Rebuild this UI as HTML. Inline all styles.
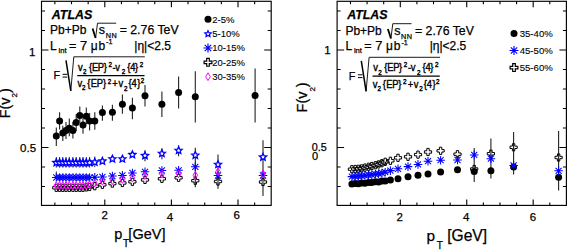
<!DOCTYPE html><html><head><meta charset="utf-8"><style>html,body{margin:0;padding:0;background:#fff;width:568px;height:250px;overflow:hidden}svg{display:block}text{font-family:"Liberation Sans",sans-serif;stroke:#000;stroke-width:0.25px}</style></head><body>
<svg width="568" height="250" viewBox="0 0 568 250">
<rect width="568" height="250" fill="#fff"/>
<path d="M54.85 205.40v-3M54.85 1.30v3M71.50 205.40v-3M71.50 1.30v3M88.15 205.40v-3M88.15 1.30v3M104.80 205.40v-6M104.80 1.30v6M121.45 205.40v-3M121.45 1.30v3M138.10 205.40v-3M138.10 1.30v3M154.75 205.40v-3M154.75 1.30v3M171.40 205.40v-6M171.40 1.30v6M188.05 205.40v-3M188.05 1.30v3M204.70 205.40v-3M204.70 1.30v3M221.35 205.40v-3M221.35 1.30v3M238.00 205.40v-6M238.00 1.30v6M254.65 205.40v-3M254.65 1.30v3M41.50 186.50h3.5M271.20 186.50h-3.5M41.50 167.00h3.5M271.20 167.00h-3.5M41.50 147.50h7M271.20 147.50h-7M41.50 128.00h3.5M271.20 128.00h-3.5M41.50 108.50h3.5M271.20 108.50h-3.5M41.50 89.00h3.5M271.20 89.00h-3.5M41.50 69.50h3.5M271.20 69.50h-3.5M41.50 50.00h7M271.20 50.00h-7M41.50 30.50h3.5M271.20 30.50h-3.5M41.50 11.00h3.5M271.20 11.00h-3.5" stroke="#000" stroke-width="1.1" fill="none"/>
<rect x="41.50" y="1.30" width="229.70" height="204.10" fill="none" stroke="#000" stroke-width="1.15"/>
<path d="M350.47 205.40v-3M350.47 1.30v3M367.08 205.40v-3M367.08 1.30v3M383.69 205.40v-3M383.69 1.30v3M400.30 205.40v-6M400.30 1.30v6M416.91 205.40v-3M416.91 1.30v3M433.52 205.40v-3M433.52 1.30v3M450.13 205.40v-3M450.13 1.30v3M466.74 205.40v-6M466.74 1.30v6M483.35 205.40v-3M483.35 1.30v3M499.96 205.40v-3M499.96 1.30v3M516.57 205.40v-3M516.57 1.30v3M533.18 205.40v-6M533.18 1.30v6M549.79 205.40v-3M549.79 1.30v3M337.10 186.50h3.5M566.40 186.50h-3.5M337.10 167.00h3.5M566.40 167.00h-3.5M337.10 147.50h7M566.40 147.50h-7M337.10 128.00h3.5M566.40 128.00h-3.5M337.10 108.50h3.5M566.40 108.50h-3.5M337.10 89.00h3.5M566.40 89.00h-3.5M337.10 69.50h3.5M566.40 69.50h-3.5M337.10 50.00h7M566.40 50.00h-7M337.10 30.50h3.5M566.40 30.50h-3.5M337.10 11.00h3.5M566.40 11.00h-3.5" stroke="#000" stroke-width="1.1" fill="none"/>
<rect x="337.10" y="1.30" width="229.30" height="204.10" fill="none" stroke="#000" stroke-width="1.15"/>
<text x="101.62" y="219.40" font-size="11.5" >2</text>
<text x="166.84" y="220.60" font-size="11.5" >4</text>
<text x="233.52" y="219.10" font-size="11.5" >6</text>
<text x="396.52" y="221.10" font-size="11.5" >2</text>
<text x="463.04" y="221.40" font-size="11.5" >4</text>
<text x="529.72" y="221.20" font-size="11.5" >6</text>
<text x="28.97" y="56.00" font-size="11.5">1</text>
<text x="20.10" y="151.60" font-size="11.5">0.5</text>
<text x="324.17" y="54.40" font-size="11.5">1</text>
<text x="311.74" y="150.80" font-size="10.8">0.5</text>
<text x="311.97" y="160.10" font-size="11" >0</text>
<text x="114.17" y="239.40" font-size="14.5" >p</text>
<text x="123.08" y="246.80" font-size="10" >T</text>
<text x="128.37" y="239.40" font-size="14.5" >[GeV]</text>
<text x="426.61" y="241.00" font-size="15.4" >p</text>
<text x="436.68" y="248.90" font-size="10" >T</text>
<text x="447.19" y="241.30" font-size="15.6" >[GeV]</text>
<text transform="translate(9.9,118.3) rotate(-90)" font-size="14.4">F(v<tspan font-size="8" dy="7.4">2</tspan><tspan dy="-7.4">)</tspan></text>
<text transform="translate(307.4,112.4) rotate(-90)" font-size="14.4">F(v<tspan font-size="8" dy="7.6">2</tspan><tspan dy="-7.6">)</tspan></text>
<text x="51.85" y="18.60" font-size="12.4" font-weight="bold" font-style="italic" >ATLAS</text>
<text x="50.12" y="34.00" font-size="12" >Pb+Pb</text>
<path d="M92.6 28.4L95.6 37.9" stroke="#000" stroke-width="1.8" fill="none"/>
<path d="M95.6 37.9L97.5 23.2H116.2" stroke="#000" stroke-width="0.9" fill="none"/>
<text x="98.85" y="34.00" font-size="12.5" >s</text>
<text x="105.81" y="38.20" font-size="7.2" letter-spacing="0.5">NN</text>
<text x="119.70" y="34.00" font-size="12.3" >= 2.76 TeV</text>
<text x="50.12" y="49.60" font-size="12" >L</text>
<text x="58.59" y="52.90" font-size="7.6" >int</text>
<text x="68.99" y="49.60" font-size="12.5" >=</text>
<text x="80.04" y="49.60" font-size="12.8" >7</text>
<text x="90.79" y="49.60" font-size="12" >μ</text>
<text x="98.43" y="49.60" font-size="12" >b</text>
<text x="106.08" y="44.00" font-size="7.2" >-1</text>
<text x="134.33" y="49.80" font-size="12" >|η|&lt;2.5</text>
<text x="53.51" y="79.00" font-size="10.8" >F</text>
<path d="M62.6 74.3h4.6M62.6 77.1h4.6" stroke="#000" stroke-width="1"/>
<path d="M66 60.4L70.8 90.8" stroke="#000" stroke-width="1.5" fill="none"/>
<path d="M70.8 90.8L73.8 56.8H144.8" stroke="#000" stroke-width="0.9" fill="none"/>
<line x1="77.2" y1="75.6" x2="144.5" y2="75.6" stroke="#000" stroke-width="1.3"/>
<text transform="translate(77.97,70.80) scale(1,1.15)" font-size="9.4" style="stroke-width:0.35px">v</text>
<text transform="translate(82.88,74.00) scale(1,1.15)" font-size="6.3" style="stroke-width:0.35px">2</text>
<text transform="translate(88.94,70.80) scale(1,1.15)" font-size="9.4" style="stroke-width:0.35px">{</text>
<text transform="translate(92.03,70.80) scale(1,1.15)" font-size="9.4" style="stroke-width:0.35px">E</text>
<text transform="translate(97.83,70.80) scale(1,1.15)" font-size="9.4" style="stroke-width:0.35px">P</text>
<text transform="translate(103.64,70.80) scale(1,1.15)" font-size="9.4" style="stroke-width:0.35px">}</text>
<text transform="translate(108.48,66.60) scale(1,1.15)" font-size="6.3" style="stroke-width:0.35px">2</text>
<text transform="translate(112.58,70.80) scale(1,1.15)" font-size="9.4" style="stroke-width:0.35px">-</text>
<text transform="translate(115.37,70.80) scale(1,1.15)" font-size="9.4" style="stroke-width:0.35px">v</text>
<text transform="translate(121.68,74.00) scale(1,1.15)" font-size="6.3" style="stroke-width:0.35px">2</text>
<text transform="translate(127.24,70.80) scale(1,1.15)" font-size="9.4" style="stroke-width:0.35px">{</text>
<text transform="translate(130.18,70.80) scale(1,1.15)" font-size="9.4" style="stroke-width:0.35px">4</text>
<text transform="translate(135.04,70.80) scale(1,1.15)" font-size="9.4" style="stroke-width:0.35px">}</text>
<text transform="translate(139.78,66.60) scale(1,1.15)" font-size="6.3" style="stroke-width:0.35px">2</text>
<text transform="translate(77.57,87.10) scale(1,1.15)" font-size="9.4" style="stroke-width:0.35px">v</text>
<text transform="translate(82.08,90.00) scale(1,1.15)" font-size="6.3" style="stroke-width:0.35px">2</text>
<text transform="translate(87.34,87.10) scale(1,1.15)" font-size="9.4" style="stroke-width:0.35px">{</text>
<text transform="translate(90.83,87.10) scale(1,1.15)" font-size="9.4" style="stroke-width:0.35px">E</text>
<text transform="translate(96.83,87.10) scale(1,1.15)" font-size="9.4" style="stroke-width:0.35px">P</text>
<text transform="translate(103.04,87.10) scale(1,1.15)" font-size="9.4" style="stroke-width:0.35px">}</text>
<text transform="translate(107.68,83.60) scale(1,1.15)" font-size="6.3" style="stroke-width:0.35px">2</text>
<text transform="translate(112.34,87.10) scale(1,1.15)" font-size="9.4" style="stroke-width:0.35px">+</text>
<text transform="translate(118.47,87.10) scale(1,1.15)" font-size="9.4" style="stroke-width:0.35px">v</text>
<text transform="translate(123.88,90.60) scale(1,1.15)" font-size="6.3" style="stroke-width:0.35px">2</text>
<text transform="translate(128.44,87.10) scale(1,1.15)" font-size="9.4" style="stroke-width:0.35px">{</text>
<text transform="translate(131.48,87.10) scale(1,1.15)" font-size="9.4" style="stroke-width:0.35px">4</text>
<text transform="translate(137.24,87.10) scale(1,1.15)" font-size="9.4" style="stroke-width:0.35px">}</text>
<text transform="translate(140.68,83.20) scale(1,1.15)" font-size="6.3" style="stroke-width:0.35px">2</text>
<text x="347.15" y="19.10" font-size="12.4" font-weight="bold" font-style="italic" >ATLAS</text>
<text x="345.42" y="34.50" font-size="12" >Pb+Pb</text>
<path d="M387.9 28.9L390.9 38.4" stroke="#000" stroke-width="1.8" fill="none"/>
<path d="M390.9 38.4L392.8 23.7H411.5" stroke="#000" stroke-width="0.9" fill="none"/>
<text x="394.15" y="34.50" font-size="12.5" >s</text>
<text x="401.11" y="38.70" font-size="7.2" letter-spacing="0.5">NN</text>
<text x="415.00" y="34.50" font-size="12.3" >= 2.76 TeV</text>
<text x="345.42" y="50.10" font-size="12" >L</text>
<text x="353.89" y="53.40" font-size="7.6" >int</text>
<text x="364.29" y="50.10" font-size="12.5" >=</text>
<text x="375.34" y="50.10" font-size="12.8" >7</text>
<text x="386.09" y="50.10" font-size="12" >μ</text>
<text x="393.73" y="50.10" font-size="12" >b</text>
<text x="401.38" y="44.50" font-size="7.2" >-1</text>
<text x="429.63" y="50.30" font-size="12" >|η|&lt;2.5</text>
<text x="348.81" y="79.50" font-size="10.8" >F</text>
<path d="M357.90000000000003 74.8h4.6M357.90000000000003 77.6h4.6" stroke="#000" stroke-width="1"/>
<path d="M361.3 60.9L366.1 91.3" stroke="#000" stroke-width="1.5" fill="none"/>
<path d="M366.1 91.3L369.1 57.3H440.1" stroke="#000" stroke-width="0.9" fill="none"/>
<line x1="372.5" y1="76.1" x2="439.8" y2="76.1" stroke="#000" stroke-width="1.3"/>
<text transform="translate(373.27,71.30) scale(1,1.15)" font-size="9.4" style="stroke-width:0.35px">v</text>
<text transform="translate(378.18,74.50) scale(1,1.15)" font-size="6.3" style="stroke-width:0.35px">2</text>
<text transform="translate(384.24,71.30) scale(1,1.15)" font-size="9.4" style="stroke-width:0.35px">{</text>
<text transform="translate(387.33,71.30) scale(1,1.15)" font-size="9.4" style="stroke-width:0.35px">E</text>
<text transform="translate(393.13,71.30) scale(1,1.15)" font-size="9.4" style="stroke-width:0.35px">P</text>
<text transform="translate(398.94,71.30) scale(1,1.15)" font-size="9.4" style="stroke-width:0.35px">}</text>
<text transform="translate(403.78,67.10) scale(1,1.15)" font-size="6.3" style="stroke-width:0.35px">2</text>
<text transform="translate(407.88,71.30) scale(1,1.15)" font-size="9.4" style="stroke-width:0.35px">-</text>
<text transform="translate(410.67,71.30) scale(1,1.15)" font-size="9.4" style="stroke-width:0.35px">v</text>
<text transform="translate(416.98,74.50) scale(1,1.15)" font-size="6.3" style="stroke-width:0.35px">2</text>
<text transform="translate(422.54,71.30) scale(1,1.15)" font-size="9.4" style="stroke-width:0.35px">{</text>
<text transform="translate(425.48,71.30) scale(1,1.15)" font-size="9.4" style="stroke-width:0.35px">4</text>
<text transform="translate(430.34,71.30) scale(1,1.15)" font-size="9.4" style="stroke-width:0.35px">}</text>
<text transform="translate(435.08,67.10) scale(1,1.15)" font-size="6.3" style="stroke-width:0.35px">2</text>
<text transform="translate(372.87,87.60) scale(1,1.15)" font-size="9.4" style="stroke-width:0.35px">v</text>
<text transform="translate(377.38,90.50) scale(1,1.15)" font-size="6.3" style="stroke-width:0.35px">2</text>
<text transform="translate(382.64,87.60) scale(1,1.15)" font-size="9.4" style="stroke-width:0.35px">{</text>
<text transform="translate(386.13,87.60) scale(1,1.15)" font-size="9.4" style="stroke-width:0.35px">E</text>
<text transform="translate(392.13,87.60) scale(1,1.15)" font-size="9.4" style="stroke-width:0.35px">P</text>
<text transform="translate(398.34,87.60) scale(1,1.15)" font-size="9.4" style="stroke-width:0.35px">}</text>
<text transform="translate(402.98,84.10) scale(1,1.15)" font-size="6.3" style="stroke-width:0.35px">2</text>
<text transform="translate(407.64,87.60) scale(1,1.15)" font-size="9.4" style="stroke-width:0.35px">+</text>
<text transform="translate(413.77,87.60) scale(1,1.15)" font-size="9.4" style="stroke-width:0.35px">v</text>
<text transform="translate(419.18,91.10) scale(1,1.15)" font-size="6.3" style="stroke-width:0.35px">2</text>
<text transform="translate(423.74,87.60) scale(1,1.15)" font-size="9.4" style="stroke-width:0.35px">{</text>
<text transform="translate(426.78,87.60) scale(1,1.15)" font-size="9.4" style="stroke-width:0.35px">4</text>
<text transform="translate(432.54,87.60) scale(1,1.15)" font-size="9.4" style="stroke-width:0.35px">}</text>
<text transform="translate(435.98,83.70) scale(1,1.15)" font-size="6.3" style="stroke-width:0.35px">2</text>
<circle cx="208.0" cy="19.3" r="3.5" fill="#000"/>
<text x="212.2" y="22.7" font-size="9.5" text-anchor="start" style="stroke-width:0.1px">2-5%</text>
<polygon points="208.00,30.65 208.91,32.70 211.14,32.93 209.48,34.43 209.94,36.62 208.00,35.50 206.06,36.62 206.52,34.43 204.86,32.93 207.09,32.70" fill="#fff" stroke="#0000ff" stroke-width="1.2" stroke-linejoin="miter"/>
<text x="212.2" y="37.0" font-size="9.5" text-anchor="start" style="stroke-width:0.1px">5-10%</text>
<path d="M203.50 48.00H212.50M208.00 43.50V52.50M204.82 44.82L211.18 51.18M204.82 51.18L211.18 44.82" stroke="#0000ff" stroke-width="1.15" fill="none"/>
<text x="212.2" y="51.4" font-size="9.5" text-anchor="start" style="stroke-width:0.1px">10-15%</text>
<polygon points="206.70,58.45 209.30,58.45 209.30,61.05 211.90,61.05 211.90,63.65 209.30,63.65 209.30,66.25 206.70,66.25 206.70,63.65 204.10,63.65 204.10,61.05 206.70,61.05" fill="none" stroke="#000" stroke-width="1.2"/>
<text x="212.2" y="65.8" font-size="9.5" text-anchor="start" style="stroke-width:0.1px">20-25%</text>
<polygon points="208.00,72.80 210.30,76.70 208.00,80.60 205.70,76.70" fill="none" stroke="#ff00ff" stroke-width="1.0"/>
<text x="212.2" y="80.1" font-size="9.5" text-anchor="start" style="stroke-width:0.1px">30-35%</text>
<circle cx="514.0" cy="33.4" r="3.5" fill="#000"/>
<text x="519.7" y="36.9" font-size="9.6" text-anchor="start" style="stroke-width:0.1px">35-40%</text>
<path d="M509.50 50.50H518.50M514.00 46.00V55.00M510.82 47.32L517.18 53.68M510.82 53.68L517.18 47.32" stroke="#0000ff" stroke-width="1.15" fill="none"/>
<text x="519.7" y="54.0" font-size="9.6" text-anchor="start" style="stroke-width:0.1px">45-50%</text>
<polygon points="512.70,63.70 515.30,63.70 515.30,66.30 517.90,66.30 517.90,68.90 515.30,68.90 515.30,71.50 512.70,71.50 512.70,68.90 510.10,68.90 510.10,66.30 512.70,66.30" fill="none" stroke="#000" stroke-width="1.2"/>
<text x="519.7" y="71.1" font-size="9.6" text-anchor="start" style="stroke-width:0.1px">55-60%</text>
<line x1="195.3" y1="147.7" x2="195.3" y2="187.3" stroke="#222" stroke-width="1.1"/>
<line x1="218.0" y1="154.5" x2="218.0" y2="188.7" stroke="#222" stroke-width="1.1"/>
<line x1="263.0" y1="140.2" x2="263.0" y2="196.0" stroke="#222" stroke-width="1.1"/>
<line x1="145.0" y1="150.3" x2="145.0" y2="161.3" stroke="#222" stroke-width="1.1"/>
<line x1="161.9" y1="148.2" x2="161.9" y2="159.2" stroke="#222" stroke-width="1.1"/>
<line x1="178.6" y1="145.2" x2="178.6" y2="156.2" stroke="#222" stroke-width="1.1"/>
<line x1="56.3" y1="157.0" x2="56.3" y2="167.7" stroke="#333" stroke-width="1.0"/>
<line x1="59.6" y1="157.0" x2="59.6" y2="167.7" stroke="#333" stroke-width="1.0"/>
<line x1="62.8" y1="157.0" x2="62.8" y2="167.7" stroke="#333" stroke-width="1.0"/>
<line x1="66.0" y1="157.0" x2="66.0" y2="167.7" stroke="#333" stroke-width="1.0"/>
<line x1="69.3" y1="157.0" x2="69.3" y2="167.7" stroke="#333" stroke-width="1.0"/>
<line x1="72.9" y1="157.0" x2="72.9" y2="167.7" stroke="#333" stroke-width="1.0"/>
<line x1="76.2" y1="157.0" x2="76.2" y2="167.7" stroke="#333" stroke-width="1.0"/>
<line x1="79.8" y1="157.0" x2="79.8" y2="167.7" stroke="#333" stroke-width="1.0"/>
<line x1="83.0" y1="157.0" x2="83.0" y2="167.7" stroke="#333" stroke-width="1.0"/>
<line x1="86.3" y1="157.0" x2="86.3" y2="167.7" stroke="#333" stroke-width="1.0"/>
<line x1="89.6" y1="157.0" x2="89.6" y2="167.7" stroke="#333" stroke-width="1.0"/>
<line x1="94.8" y1="156.5" x2="94.8" y2="167.2" stroke="#333" stroke-width="1.0"/>
<line x1="56.3" y1="171.5" x2="56.3" y2="177.5" stroke="#222" stroke-width="1.0"/>
<polygon points="56.30,159.00 57.32,161.29 59.82,161.56 57.95,163.24 58.47,165.69 56.30,164.44 54.13,165.69 54.65,163.24 52.78,161.56 55.28,161.29" fill="#fff" stroke="#0000ff" stroke-width="1.35" stroke-linejoin="miter"/>
<polygon points="59.60,159.00 60.62,161.29 63.12,161.56 61.25,163.24 61.77,165.69 59.60,164.44 57.43,165.69 57.95,163.24 56.08,161.56 58.58,161.29" fill="#fff" stroke="#0000ff" stroke-width="1.35" stroke-linejoin="miter"/>
<polygon points="62.80,159.00 63.82,161.29 66.32,161.56 64.45,163.24 64.97,165.69 62.80,164.44 60.63,165.69 61.15,163.24 59.28,161.56 61.78,161.29" fill="#fff" stroke="#0000ff" stroke-width="1.35" stroke-linejoin="miter"/>
<polygon points="66.00,159.00 67.02,161.29 69.52,161.56 67.65,163.24 68.17,165.69 66.00,164.44 63.83,165.69 64.35,163.24 62.48,161.56 64.98,161.29" fill="#fff" stroke="#0000ff" stroke-width="1.35" stroke-linejoin="miter"/>
<polygon points="69.30,159.00 70.32,161.29 72.82,161.56 70.95,163.24 71.47,165.69 69.30,164.44 67.13,165.69 67.65,163.24 65.78,161.56 68.28,161.29" fill="#fff" stroke="#0000ff" stroke-width="1.35" stroke-linejoin="miter"/>
<polygon points="72.90,159.00 73.92,161.29 76.42,161.56 74.55,163.24 75.07,165.69 72.90,164.44 70.73,165.69 71.25,163.24 69.38,161.56 71.88,161.29" fill="#fff" stroke="#0000ff" stroke-width="1.35" stroke-linejoin="miter"/>
<polygon points="76.20,159.00 77.22,161.29 79.72,161.56 77.85,163.24 78.37,165.69 76.20,164.44 74.03,165.69 74.55,163.24 72.68,161.56 75.18,161.29" fill="#fff" stroke="#0000ff" stroke-width="1.35" stroke-linejoin="miter"/>
<polygon points="79.80,159.00 80.82,161.29 83.32,161.56 81.45,163.24 81.97,165.69 79.80,164.44 77.63,165.69 78.15,163.24 76.28,161.56 78.78,161.29" fill="#fff" stroke="#0000ff" stroke-width="1.35" stroke-linejoin="miter"/>
<polygon points="83.00,159.00 84.02,161.29 86.52,161.56 84.65,163.24 85.17,165.69 83.00,164.44 80.83,165.69 81.35,163.24 79.48,161.56 81.98,161.29" fill="#fff" stroke="#0000ff" stroke-width="1.35" stroke-linejoin="miter"/>
<polygon points="86.30,159.00 87.32,161.29 89.82,161.56 87.95,163.24 88.47,165.69 86.30,164.44 84.13,165.69 84.65,163.24 82.78,161.56 85.28,161.29" fill="#fff" stroke="#0000ff" stroke-width="1.35" stroke-linejoin="miter"/>
<polygon points="89.60,159.00 90.62,161.29 93.12,161.56 91.25,163.24 91.77,165.69 89.60,164.44 87.43,165.69 87.95,163.24 86.08,161.56 88.58,161.29" fill="#fff" stroke="#0000ff" stroke-width="1.35" stroke-linejoin="miter"/>
<polygon points="94.80,158.50 95.82,160.79 98.32,161.06 96.45,162.74 96.97,165.19 94.80,163.94 92.63,165.19 93.15,162.74 91.28,161.06 93.78,160.79" fill="#fff" stroke="#0000ff" stroke-width="1.35" stroke-linejoin="miter"/>
<polygon points="102.40,157.50 103.42,159.79 105.92,160.06 104.05,161.74 104.57,164.19 102.40,162.94 100.23,164.19 100.75,161.74 98.88,160.06 101.38,159.79" fill="#fff" stroke="#0000ff" stroke-width="1.35" stroke-linejoin="miter"/>
<polygon points="112.40,155.30 113.42,157.59 115.92,157.86 114.05,159.54 114.57,161.99 112.40,160.74 110.23,161.99 110.75,159.54 108.88,157.86 111.38,157.59" fill="#fff" stroke="#0000ff" stroke-width="1.35" stroke-linejoin="miter"/>
<polygon points="122.40,155.30 123.42,157.59 125.92,157.86 124.05,159.54 124.57,161.99 122.40,160.74 120.23,161.99 120.75,159.54 118.88,157.86 121.38,157.59" fill="#fff" stroke="#0000ff" stroke-width="1.35" stroke-linejoin="miter"/>
<polygon points="132.40,151.00 133.42,153.29 135.92,153.56 134.05,155.24 134.57,157.69 132.40,156.44 130.23,157.69 130.75,155.24 128.88,153.56 131.38,153.29" fill="#fff" stroke="#0000ff" stroke-width="1.35" stroke-linejoin="miter"/>
<polygon points="145.00,151.90 146.02,154.19 148.52,154.46 146.65,156.14 147.17,158.59 145.00,157.34 142.83,158.59 143.35,156.14 141.48,154.46 143.98,154.19" fill="#fff" stroke="#0000ff" stroke-width="1.35" stroke-linejoin="miter"/>
<polygon points="161.90,149.80 162.92,152.09 165.42,152.36 163.55,154.04 164.07,156.49 161.90,155.24 159.73,156.49 160.25,154.04 158.38,152.36 160.88,152.09" fill="#fff" stroke="#0000ff" stroke-width="1.35" stroke-linejoin="miter"/>
<polygon points="178.60,146.80 179.62,149.09 182.12,149.36 180.25,151.04 180.77,153.49 178.60,152.24 176.43,153.49 176.95,151.04 175.08,149.36 177.58,149.09" fill="#fff" stroke="#0000ff" stroke-width="1.35" stroke-linejoin="miter"/>
<polygon points="195.30,151.60 196.32,153.89 198.82,154.16 196.95,155.84 197.47,158.29 195.30,157.04 193.13,158.29 193.65,155.84 191.78,154.16 194.28,153.89" fill="#fff" stroke="#0000ff" stroke-width="1.35" stroke-linejoin="miter"/>
<polygon points="218.00,160.80 219.02,163.09 221.52,163.36 219.65,165.04 220.17,167.49 218.00,166.24 215.83,167.49 216.35,165.04 214.48,163.36 216.98,163.09" fill="#fff" stroke="#0000ff" stroke-width="1.35" stroke-linejoin="miter"/>
<polygon points="263.00,153.40 264.02,155.69 266.52,155.96 264.65,157.64 265.17,160.09 263.00,158.84 260.83,160.09 261.35,157.64 259.48,155.96 261.98,155.69" fill="#fff" stroke="#0000ff" stroke-width="1.35" stroke-linejoin="miter"/>
<path d="M52.00 177.50H60.60M56.30 173.20V181.80M53.26 174.46L59.34 180.54M53.26 180.54L59.34 174.46" stroke="#0000ff" stroke-width="1.05" fill="none"/>
<path d="M55.30 177.50H63.90M59.60 173.20V181.80M56.56 174.46L62.64 180.54M56.56 180.54L62.64 174.46" stroke="#0000ff" stroke-width="1.05" fill="none"/>
<path d="M58.50 177.50H67.10M62.80 173.20V181.80M59.76 174.46L65.84 180.54M59.76 180.54L65.84 174.46" stroke="#0000ff" stroke-width="1.05" fill="none"/>
<path d="M61.70 177.50H70.30M66.00 173.20V181.80M62.96 174.46L69.04 180.54M62.96 180.54L69.04 174.46" stroke="#0000ff" stroke-width="1.05" fill="none"/>
<path d="M65.00 177.50H73.60M69.30 173.20V181.80M66.26 174.46L72.34 180.54M66.26 180.54L72.34 174.46" stroke="#0000ff" stroke-width="1.05" fill="none"/>
<path d="M68.60 177.50H77.20M72.90 173.20V181.80M69.86 174.46L75.94 180.54M69.86 180.54L75.94 174.46" stroke="#0000ff" stroke-width="1.05" fill="none"/>
<path d="M71.90 177.50H80.50M76.20 173.20V181.80M73.16 174.46L79.24 180.54M73.16 180.54L79.24 174.46" stroke="#0000ff" stroke-width="1.05" fill="none"/>
<path d="M75.50 177.50H84.10M79.80 173.20V181.80M76.76 174.46L82.84 180.54M76.76 180.54L82.84 174.46" stroke="#0000ff" stroke-width="1.05" fill="none"/>
<path d="M78.70 177.50H87.30M83.00 173.20V181.80M79.96 174.46L86.04 180.54M79.96 180.54L86.04 174.46" stroke="#0000ff" stroke-width="1.05" fill="none"/>
<path d="M82.00 177.50H90.60M86.30 173.20V181.80M83.26 174.46L89.34 180.54M83.26 180.54L89.34 174.46" stroke="#0000ff" stroke-width="1.05" fill="none"/>
<path d="M85.30 177.50H93.90M89.60 173.20V181.80M86.56 174.46L92.64 180.54M86.56 180.54L92.64 174.46" stroke="#0000ff" stroke-width="1.05" fill="none"/>
<path d="M90.50 177.30H99.10M94.80 173.00V181.60M91.76 174.26L97.84 180.34M91.76 180.34L97.84 174.26" stroke="#0000ff" stroke-width="1.05" fill="none"/>
<path d="M98.10 177.00H106.70M102.40 172.70V181.30M99.36 173.96L105.44 180.04M99.36 180.04L105.44 173.96" stroke="#0000ff" stroke-width="1.05" fill="none"/>
<path d="M108.10 176.00H116.70M112.40 171.70V180.30M109.36 172.96L115.44 179.04M109.36 179.04L115.44 172.96" stroke="#0000ff" stroke-width="1.05" fill="none"/>
<path d="M118.10 175.40H126.70M122.40 171.10V179.70M119.36 172.36L125.44 178.44M119.36 178.44L125.44 172.36" stroke="#0000ff" stroke-width="1.05" fill="none"/>
<path d="M128.10 173.00H136.70M132.40 168.70V177.30M129.36 169.96L135.44 176.04M129.36 176.04L135.44 169.96" stroke="#0000ff" stroke-width="1.05" fill="none"/>
<path d="M140.70 171.80H149.30M145.00 167.50V176.10M141.96 168.76L148.04 174.84M141.96 174.84L148.04 168.76" stroke="#0000ff" stroke-width="1.05" fill="none"/>
<path d="M157.60 170.50H166.20M161.90 166.20V174.80M158.86 167.46L164.94 173.54M158.86 173.54L164.94 167.46" stroke="#0000ff" stroke-width="1.05" fill="none"/>
<path d="M174.30 170.30H182.90M178.60 166.00V174.60M175.56 167.26L181.64 173.34M175.56 173.34L181.64 167.26" stroke="#0000ff" stroke-width="1.05" fill="none"/>
<path d="M191.00 166.80H199.60M195.30 162.50V171.10M192.26 163.76L198.34 169.84M192.26 169.84L198.34 163.76" stroke="#0000ff" stroke-width="1.05" fill="none"/>
<path d="M213.70 175.50H222.30M218.00 171.20V179.80M214.96 172.46L221.04 178.54M214.96 178.54L221.04 172.46" stroke="#0000ff" stroke-width="1.05" fill="none"/>
<path d="M258.70 175.50H267.30M263.00 171.20V179.80M259.96 172.46L266.04 178.54M259.96 178.54L266.04 172.46" stroke="#0000ff" stroke-width="1.05" fill="none"/>
<polygon points="55.10,184.20 57.50,184.20 57.50,186.60 59.90,186.60 59.90,189.00 57.50,189.00 57.50,191.40 55.10,191.40 55.10,189.00 52.70,189.00 52.70,186.60 55.10,186.60" fill="none" stroke="#000" stroke-width="1.0"/>
<polygon points="58.40,184.20 60.80,184.20 60.80,186.60 63.20,186.60 63.20,189.00 60.80,189.00 60.80,191.40 58.40,191.40 58.40,189.00 56.00,189.00 56.00,186.60 58.40,186.60" fill="none" stroke="#000" stroke-width="1.0"/>
<polygon points="61.60,184.20 64.00,184.20 64.00,186.60 66.40,186.60 66.40,189.00 64.00,189.00 64.00,191.40 61.60,191.40 61.60,189.00 59.20,189.00 59.20,186.60 61.60,186.60" fill="none" stroke="#000" stroke-width="1.0"/>
<polygon points="64.80,184.20 67.20,184.20 67.20,186.60 69.60,186.60 69.60,189.00 67.20,189.00 67.20,191.40 64.80,191.40 64.80,189.00 62.40,189.00 62.40,186.60 64.80,186.60" fill="none" stroke="#000" stroke-width="1.0"/>
<polygon points="68.10,184.20 70.50,184.20 70.50,186.60 72.90,186.60 72.90,189.00 70.50,189.00 70.50,191.40 68.10,191.40 68.10,189.00 65.70,189.00 65.70,186.60 68.10,186.60" fill="none" stroke="#000" stroke-width="1.0"/>
<polygon points="71.70,184.20 74.10,184.20 74.10,186.60 76.50,186.60 76.50,189.00 74.10,189.00 74.10,191.40 71.70,191.40 71.70,189.00 69.30,189.00 69.30,186.60 71.70,186.60" fill="none" stroke="#000" stroke-width="1.0"/>
<polygon points="75.00,184.20 77.40,184.20 77.40,186.60 79.80,186.60 79.80,189.00 77.40,189.00 77.40,191.40 75.00,191.40 75.00,189.00 72.60,189.00 72.60,186.60 75.00,186.60" fill="none" stroke="#000" stroke-width="1.0"/>
<polygon points="78.60,184.20 81.00,184.20 81.00,186.60 83.40,186.60 83.40,189.00 81.00,189.00 81.00,191.40 78.60,191.40 78.60,189.00 76.20,189.00 76.20,186.60 78.60,186.60" fill="none" stroke="#000" stroke-width="1.0"/>
<polygon points="81.80,184.20 84.20,184.20 84.20,186.60 86.60,186.60 86.60,189.00 84.20,189.00 84.20,191.40 81.80,191.40 81.80,189.00 79.40,189.00 79.40,186.60 81.80,186.60" fill="none" stroke="#000" stroke-width="1.0"/>
<polygon points="85.10,183.80 87.50,183.80 87.50,186.20 89.90,186.20 89.90,188.60 87.50,188.60 87.50,191.00 85.10,191.00 85.10,188.60 82.70,188.60 82.70,186.20 85.10,186.20" fill="none" stroke="#000" stroke-width="1.0"/>
<polygon points="88.40,183.40 90.80,183.40 90.80,185.80 93.20,185.80 93.20,188.20 90.80,188.20 90.80,190.60 88.40,190.60 88.40,188.20 86.00,188.20 86.00,185.80 88.40,185.80" fill="none" stroke="#000" stroke-width="1.0"/>
<polygon points="93.60,182.60 96.00,182.60 96.00,185.00 98.40,185.00 98.40,187.40 96.00,187.40 96.00,189.80 93.60,189.80 93.60,187.40 91.20,187.40 91.20,185.00 93.60,185.00" fill="none" stroke="#000" stroke-width="1.0"/>
<polygon points="101.20,181.20 103.60,181.20 103.60,183.60 106.00,183.60 106.00,186.00 103.60,186.00 103.60,188.40 101.20,188.40 101.20,186.00 98.80,186.00 98.80,183.60 101.20,183.60" fill="none" stroke="#000" stroke-width="1.0"/>
<polygon points="111.20,180.00 113.60,180.00 113.60,182.40 116.00,182.40 116.00,184.80 113.60,184.80 113.60,187.20 111.20,187.20 111.20,184.80 108.80,184.80 108.80,182.40 111.20,182.40" fill="none" stroke="#000" stroke-width="1.0"/>
<polygon points="121.20,179.40 123.60,179.40 123.60,181.80 126.00,181.80 126.00,184.20 123.60,184.20 123.60,186.60 121.20,186.60 121.20,184.20 118.80,184.20 118.80,181.80 121.20,181.80" fill="none" stroke="#000" stroke-width="1.0"/>
<polygon points="131.20,178.20 133.60,178.20 133.60,180.60 136.00,180.60 136.00,183.00 133.60,183.00 133.60,185.40 131.20,185.40 131.20,183.00 128.80,183.00 128.80,180.60 131.20,180.60" fill="none" stroke="#000" stroke-width="1.0"/>
<polygon points="143.80,176.30 146.20,176.30 146.20,178.70 148.60,178.70 148.60,181.10 146.20,181.10 146.20,183.50 143.80,183.50 143.80,181.10 141.40,181.10 141.40,178.70 143.80,178.70" fill="none" stroke="#000" stroke-width="1.0"/>
<polygon points="160.70,175.20 163.10,175.20 163.10,177.60 165.50,177.60 165.50,180.00 163.10,180.00 163.10,182.40 160.70,182.40 160.70,180.00 158.30,180.00 158.30,177.60 160.70,177.60" fill="none" stroke="#000" stroke-width="1.0"/>
<polygon points="177.40,174.20 179.80,174.20 179.80,176.60 182.20,176.60 182.20,179.00 179.80,179.00 179.80,181.40 177.40,181.40 177.40,179.00 175.00,179.00 175.00,176.60 177.40,176.60" fill="none" stroke="#000" stroke-width="1.0"/>
<polygon points="194.10,177.10 196.50,177.10 196.50,179.50 198.90,179.50 198.90,181.90 196.50,181.90 196.50,184.30 194.10,184.30 194.10,181.90 191.70,181.90 191.70,179.50 194.10,179.50" fill="none" stroke="#000" stroke-width="1.0"/>
<polygon points="216.80,177.90 219.20,177.90 219.20,180.30 221.60,180.30 221.60,182.70 219.20,182.70 219.20,185.10 216.80,185.10 216.80,182.70 214.40,182.70 214.40,180.30 216.80,180.30" fill="none" stroke="#000" stroke-width="1.0"/>
<polygon points="261.80,178.40 264.20,178.40 264.20,180.80 266.60,180.80 266.60,183.20 264.20,183.20 264.20,185.60 261.80,185.60 261.80,183.20 259.40,183.20 259.40,180.80 261.80,180.80" fill="none" stroke="#000" stroke-width="1.0"/>
<polygon points="56.30,181.70 58.60,185.60 56.30,189.50 54.00,185.60" fill="none" stroke="#ff00ff" stroke-width="1.0"/>
<polygon points="59.60,181.70 61.90,185.60 59.60,189.50 57.30,185.60" fill="none" stroke="#ff00ff" stroke-width="1.0"/>
<polygon points="62.80,181.70 65.10,185.60 62.80,189.50 60.50,185.60" fill="none" stroke="#ff00ff" stroke-width="1.0"/>
<polygon points="66.00,181.70 68.30,185.60 66.00,189.50 63.70,185.60" fill="none" stroke="#ff00ff" stroke-width="1.0"/>
<polygon points="69.30,181.70 71.60,185.60 69.30,189.50 67.00,185.60" fill="none" stroke="#ff00ff" stroke-width="1.0"/>
<polygon points="72.90,181.70 75.20,185.60 72.90,189.50 70.60,185.60" fill="none" stroke="#ff00ff" stroke-width="1.0"/>
<polygon points="76.20,181.70 78.50,185.60 76.20,189.50 73.90,185.60" fill="none" stroke="#ff00ff" stroke-width="1.0"/>
<polygon points="79.80,181.70 82.10,185.60 79.80,189.50 77.50,185.60" fill="none" stroke="#ff00ff" stroke-width="1.0"/>
<polygon points="83.00,181.70 85.30,185.60 83.00,189.50 80.70,185.60" fill="none" stroke="#ff00ff" stroke-width="1.0"/>
<polygon points="86.30,181.30 88.60,185.20 86.30,189.10 84.00,185.20" fill="none" stroke="#ff00ff" stroke-width="1.0"/>
<polygon points="89.60,180.70 91.90,184.60 89.60,188.50 87.30,184.60" fill="none" stroke="#ff00ff" stroke-width="1.0"/>
<polygon points="94.80,179.10 97.10,183.00 94.80,186.90 92.50,183.00" fill="none" stroke="#ff00ff" stroke-width="1.0"/>
<polygon points="102.40,177.30 104.70,181.20 102.40,185.10 100.10,181.20" fill="none" stroke="#ff00ff" stroke-width="1.0"/>
<polygon points="112.40,176.70 114.70,180.60 112.40,184.50 110.10,180.60" fill="none" stroke="#ff00ff" stroke-width="1.0"/>
<polygon points="122.40,175.50 124.70,179.40 122.40,183.30 120.10,179.40" fill="none" stroke="#ff00ff" stroke-width="1.0"/>
<polygon points="132.40,174.30 134.70,178.20 132.40,182.10 130.10,178.20" fill="none" stroke="#ff00ff" stroke-width="1.0"/>
<polygon points="145.00,171.70 147.30,175.60 145.00,179.50 142.70,175.60" fill="none" stroke="#ff00ff" stroke-width="1.0"/>
<polygon points="161.90,170.10 164.20,174.00 161.90,177.90 159.60,174.00" fill="none" stroke="#ff00ff" stroke-width="1.0"/>
<polygon points="178.60,169.90 180.90,173.80 178.60,177.70 176.30,173.80" fill="none" stroke="#ff00ff" stroke-width="1.0"/>
<polygon points="195.30,171.30 197.60,175.20 195.30,179.10 193.00,175.20" fill="none" stroke="#ff00ff" stroke-width="1.0"/>
<polygon points="218.00,167.70 220.30,171.60 218.00,175.50 215.70,171.60" fill="none" stroke="#ff00ff" stroke-width="1.0"/>
<polygon points="263.00,169.90 265.30,173.80 263.00,177.70 260.70,173.80" fill="none" stroke="#ff00ff" stroke-width="1.0"/>
<line x1="56.3" y1="127.4" x2="56.3" y2="146.0" stroke="#222" stroke-width="1.1"/>
<circle cx="56.3" cy="135.9" r="3.5" fill="#000"/>
<line x1="59.6" y1="112.2" x2="59.6" y2="129.5" stroke="#222" stroke-width="1.1"/>
<circle cx="59.6" cy="121.0" r="3.5" fill="#000"/>
<line x1="62.8" y1="125.8" x2="62.8" y2="141.0" stroke="#222" stroke-width="1.1"/>
<circle cx="62.8" cy="133.0" r="3.5" fill="#000"/>
<line x1="66.0" y1="122.0" x2="66.0" y2="139.0" stroke="#222" stroke-width="1.1"/>
<circle cx="66.0" cy="130.6" r="3.5" fill="#000"/>
<line x1="69.3" y1="118.6" x2="69.3" y2="136.2" stroke="#222" stroke-width="1.1"/>
<circle cx="69.3" cy="128.2" r="3.5" fill="#000"/>
<line x1="72.9" y1="122.0" x2="72.9" y2="138.6" stroke="#222" stroke-width="1.1"/>
<circle cx="72.9" cy="130.6" r="3.5" fill="#000"/>
<line x1="76.2" y1="114.0" x2="76.2" y2="131.0" stroke="#222" stroke-width="1.1"/>
<circle cx="76.2" cy="122.6" r="3.5" fill="#000"/>
<line x1="79.8" y1="106.6" x2="79.8" y2="122.5" stroke="#222" stroke-width="1.1"/>
<circle cx="79.8" cy="115.4" r="3.5" fill="#000"/>
<line x1="83.0" y1="117.8" x2="83.0" y2="133.8" stroke="#222" stroke-width="1.1"/>
<circle cx="83.0" cy="125.0" r="3.5" fill="#000"/>
<line x1="86.3" y1="107.4" x2="86.3" y2="124.0" stroke="#222" stroke-width="1.1"/>
<circle cx="86.3" cy="116.2" r="3.5" fill="#000"/>
<line x1="89.6" y1="113.0" x2="89.6" y2="130.6" stroke="#222" stroke-width="1.1"/>
<circle cx="89.6" cy="121.0" r="3.5" fill="#000"/>
<line x1="94.8" y1="112.2" x2="94.8" y2="129.8" stroke="#222" stroke-width="1.1"/>
<circle cx="94.8" cy="121.0" r="3.5" fill="#000"/>
<line x1="102.4" y1="105.5" x2="102.4" y2="120.8" stroke="#222" stroke-width="1.1"/>
<circle cx="102.4" cy="112.5" r="3.5" fill="#000"/>
<line x1="112.4" y1="104.8" x2="112.4" y2="120.8" stroke="#222" stroke-width="1.1"/>
<circle cx="112.4" cy="112.2" r="3.5" fill="#000"/>
<line x1="122.4" y1="94.6" x2="122.4" y2="113.8" stroke="#222" stroke-width="1.1"/>
<circle cx="122.4" cy="104.2" r="3.5" fill="#000"/>
<line x1="132.4" y1="97.8" x2="132.4" y2="119.2" stroke="#222" stroke-width="1.1"/>
<circle cx="132.4" cy="108.0" r="3.5" fill="#000"/>
<line x1="145.0" y1="85.0" x2="145.0" y2="106.4" stroke="#222" stroke-width="1.1"/>
<circle cx="145.0" cy="95.8" r="3.5" fill="#000"/>
<line x1="161.9" y1="91.4" x2="161.9" y2="117.0" stroke="#222" stroke-width="1.1"/>
<circle cx="161.9" cy="104.2" r="3.5" fill="#000"/>
<line x1="178.6" y1="76.6" x2="178.6" y2="108.6" stroke="#222" stroke-width="1.1"/>
<circle cx="178.6" cy="92.6" r="3.5" fill="#000"/>
<line x1="195.3" y1="71.2" x2="195.3" y2="122.4" stroke="#222" stroke-width="1.1"/>
<circle cx="195.3" cy="96.8" r="3.5" fill="#000"/>
<line x1="255.1" y1="68.4" x2="255.1" y2="122.5" stroke="#222" stroke-width="1.1"/>
<circle cx="255.1" cy="95.4" r="3.5" fill="#000"/>
<line x1="474.2" y1="148.0" x2="474.2" y2="182.0" stroke="#222" stroke-width="1.1"/>
<line x1="490.9" y1="138.5" x2="490.9" y2="178.4" stroke="#222" stroke-width="1.1"/>
<line x1="513.6" y1="132.0" x2="513.6" y2="174.6" stroke="#222" stroke-width="1.1"/>
<line x1="558.6" y1="131.0" x2="558.6" y2="190.6" stroke="#222" stroke-width="1.1"/>
<polygon points="350.70,165.60 353.10,165.60 353.10,168.00 355.50,168.00 355.50,170.40 353.10,170.40 353.10,172.80 350.70,172.80 350.70,170.40 348.30,170.40 348.30,168.00 350.70,168.00" fill="none" stroke="#000" stroke-width="1.0"/>
<polygon points="354.00,165.40 356.40,165.40 356.40,167.80 358.80,167.80 358.80,170.20 356.40,170.20 356.40,172.60 354.00,172.60 354.00,170.20 351.60,170.20 351.60,167.80 354.00,167.80" fill="none" stroke="#000" stroke-width="1.0"/>
<polygon points="357.20,165.20 359.60,165.20 359.60,167.60 362.00,167.60 362.00,170.00 359.60,170.00 359.60,172.40 357.20,172.40 357.20,170.00 354.80,170.00 354.80,167.60 357.20,167.60" fill="none" stroke="#000" stroke-width="1.0"/>
<polygon points="360.40,164.80 362.80,164.80 362.80,167.20 365.20,167.20 365.20,169.60 362.80,169.60 362.80,172.00 360.40,172.00 360.40,169.60 358.00,169.60 358.00,167.20 360.40,167.20" fill="none" stroke="#000" stroke-width="1.0"/>
<polygon points="363.70,164.00 366.10,164.00 366.10,166.40 368.50,166.40 368.50,168.80 366.10,168.80 366.10,171.20 363.70,171.20 363.70,168.80 361.30,168.80 361.30,166.40 363.70,166.40" fill="none" stroke="#000" stroke-width="1.0"/>
<polygon points="367.30,163.20 369.70,163.20 369.70,165.60 372.10,165.60 372.10,168.00 369.70,168.00 369.70,170.40 367.30,170.40 367.30,168.00 364.90,168.00 364.90,165.60 367.30,165.60" fill="none" stroke="#000" stroke-width="1.0"/>
<polygon points="370.60,162.40 373.00,162.40 373.00,164.80 375.40,164.80 375.40,167.20 373.00,167.20 373.00,169.60 370.60,169.60 370.60,167.20 368.20,167.20 368.20,164.80 370.60,164.80" fill="none" stroke="#000" stroke-width="1.0"/>
<polygon points="374.20,161.60 376.60,161.60 376.60,164.00 379.00,164.00 379.00,166.40 376.60,166.40 376.60,168.80 374.20,168.80 374.20,166.40 371.80,166.40 371.80,164.00 374.20,164.00" fill="none" stroke="#000" stroke-width="1.0"/>
<polygon points="377.40,160.80 379.80,160.80 379.80,163.20 382.20,163.20 382.20,165.60 379.80,165.60 379.80,168.00 377.40,168.00 377.40,165.60 375.00,165.60 375.00,163.20 377.40,163.20" fill="none" stroke="#000" stroke-width="1.0"/>
<polygon points="380.70,159.60 383.10,159.60 383.10,162.00 385.50,162.00 385.50,164.40 383.10,164.40 383.10,166.80 380.70,166.80 380.70,164.40 378.30,164.40 378.30,162.00 380.70,162.00" fill="none" stroke="#000" stroke-width="1.0"/>
<polygon points="384.00,158.20 386.40,158.20 386.40,160.60 388.80,160.60 388.80,163.00 386.40,163.00 386.40,165.40 384.00,165.40 384.00,163.00 381.60,163.00 381.60,160.60 384.00,160.60" fill="none" stroke="#000" stroke-width="1.0"/>
<polygon points="389.20,157.20 391.60,157.20 391.60,159.60 394.00,159.60 394.00,162.00 391.60,162.00 391.60,164.40 389.20,164.40 389.20,162.00 386.80,162.00 386.80,159.60 389.20,159.60" fill="none" stroke="#000" stroke-width="1.0"/>
<polygon points="396.80,154.20 399.20,154.20 399.20,156.60 401.60,156.60 401.60,159.00 399.20,159.00 399.20,161.40 396.80,161.40 396.80,159.00 394.40,159.00 394.40,156.60 396.80,156.60" fill="none" stroke="#000" stroke-width="1.0"/>
<polygon points="406.80,153.20 409.20,153.20 409.20,155.60 411.60,155.60 411.60,158.00 409.20,158.00 409.20,160.40 406.80,160.40 406.80,158.00 404.40,158.00 404.40,155.60 406.80,155.60" fill="none" stroke="#000" stroke-width="1.0"/>
<polygon points="416.80,151.00 419.20,151.00 419.20,153.40 421.60,153.40 421.60,155.80 419.20,155.80 419.20,158.20 416.80,158.20 416.80,155.80 414.40,155.80 414.40,153.40 416.80,153.40" fill="none" stroke="#000" stroke-width="1.0"/>
<polygon points="426.80,148.40 429.20,148.40 429.20,150.80 431.60,150.80 431.60,153.20 429.20,153.20 429.20,155.60 426.80,155.60 426.80,153.20 424.40,153.20 424.40,150.80 426.80,150.80" fill="none" stroke="#000" stroke-width="1.0"/>
<polygon points="439.40,147.20 441.80,147.20 441.80,149.60 444.20,149.60 444.20,152.00 441.80,152.00 441.80,154.40 439.40,154.40 439.40,152.00 437.00,152.00 437.00,149.60 439.40,149.60" fill="none" stroke="#000" stroke-width="1.0"/>
<polygon points="456.30,150.60 458.70,150.60 458.70,153.00 461.10,153.00 461.10,155.40 458.70,155.40 458.70,157.80 456.30,157.80 456.30,155.40 453.90,155.40 453.90,153.00 456.30,153.00" fill="none" stroke="#000" stroke-width="1.0"/>
<polygon points="473.00,165.40 475.40,165.40 475.40,167.80 477.80,167.80 477.80,170.20 475.40,170.20 475.40,172.60 473.00,172.60 473.00,170.20 470.60,170.20 470.60,167.80 473.00,167.80" fill="none" stroke="#000" stroke-width="1.0"/>
<polygon points="489.70,150.10 492.10,150.10 492.10,152.50 494.50,152.50 494.50,154.90 492.10,154.90 492.10,157.30 489.70,157.30 489.70,154.90 487.30,154.90 487.30,152.50 489.70,152.50" fill="none" stroke="#000" stroke-width="1.0"/>
<polygon points="512.40,143.70 514.80,143.70 514.80,146.10 517.20,146.10 517.20,148.50 514.80,148.50 514.80,150.90 512.40,150.90 512.40,148.50 510.00,148.50 510.00,146.10 512.40,146.10" fill="none" stroke="#000" stroke-width="1.0"/>
<polygon points="557.40,153.90 559.80,153.90 559.80,156.30 562.20,156.30 562.20,158.70 559.80,158.70 559.80,161.10 557.40,161.10 557.40,158.70 555.00,158.70 555.00,156.30 557.40,156.30" fill="none" stroke="#000" stroke-width="1.0"/>
<circle cx="351.9" cy="184.0" r="3.5" fill="#000"/>
<circle cx="355.2" cy="183.6" r="3.5" fill="#000"/>
<circle cx="358.4" cy="183.8" r="3.5" fill="#000"/>
<circle cx="361.6" cy="183.1" r="3.5" fill="#000"/>
<circle cx="364.9" cy="183.2" r="3.5" fill="#000"/>
<circle cx="368.5" cy="182.5" r="3.5" fill="#000"/>
<circle cx="371.8" cy="182.6" r="3.5" fill="#000"/>
<circle cx="375.4" cy="181.8" r="3.5" fill="#000"/>
<circle cx="378.6" cy="181.9" r="3.5" fill="#000"/>
<circle cx="381.9" cy="181.1" r="3.5" fill="#000"/>
<circle cx="385.2" cy="181.0" r="3.5" fill="#000"/>
<circle cx="390.4" cy="180.0" r="3.5" fill="#000"/>
<circle cx="398.0" cy="178.8" r="3.5" fill="#000"/>
<circle cx="408.0" cy="176.8" r="3.5" fill="#000"/>
<circle cx="418.0" cy="175.2" r="3.5" fill="#000"/>
<circle cx="428.0" cy="174.0" r="3.5" fill="#000"/>
<circle cx="440.6" cy="172.0" r="3.5" fill="#000"/>
<circle cx="457.5" cy="169.8" r="3.5" fill="#000"/>
<circle cx="474.2" cy="171.6" r="3.5" fill="#000"/>
<circle cx="490.9" cy="170.8" r="3.5" fill="#000"/>
<circle cx="513.6" cy="167.0" r="3.5" fill="#000"/>
<circle cx="558.6" cy="177.3" r="3.5" fill="#000"/>
<path d="M347.60 176.60H356.20M351.90 172.30V180.90M348.86 173.56L354.94 179.64M348.86 179.64L354.94 173.56" stroke="#0000ff" stroke-width="1.05" fill="none"/>
<path d="M350.90 176.40H359.50M355.20 172.10V180.70M352.16 173.36L358.24 179.44M352.16 179.44L358.24 173.36" stroke="#0000ff" stroke-width="1.05" fill="none"/>
<path d="M354.10 176.10H362.70M358.40 171.80V180.40M355.36 173.06L361.44 179.14M355.36 179.14L361.44 173.06" stroke="#0000ff" stroke-width="1.05" fill="none"/>
<path d="M357.30 175.80H365.90M361.60 171.50V180.10M358.56 172.76L364.64 178.84M358.56 178.84L364.64 172.76" stroke="#0000ff" stroke-width="1.05" fill="none"/>
<path d="M360.60 175.40H369.20M364.90 171.10V179.70M361.86 172.36L367.94 178.44M361.86 178.44L367.94 172.36" stroke="#0000ff" stroke-width="1.05" fill="none"/>
<path d="M364.20 175.00H372.80M368.50 170.70V179.30M365.46 171.96L371.54 178.04M365.46 178.04L371.54 171.96" stroke="#0000ff" stroke-width="1.05" fill="none"/>
<path d="M367.50 174.60H376.10M371.80 170.30V178.90M368.76 171.56L374.84 177.64M368.76 177.64L374.84 171.56" stroke="#0000ff" stroke-width="1.05" fill="none"/>
<path d="M371.10 174.10H379.70M375.40 169.80V178.40M372.36 171.06L378.44 177.14M372.36 177.14L378.44 171.06" stroke="#0000ff" stroke-width="1.05" fill="none"/>
<path d="M374.30 173.60H382.90M378.60 169.30V177.90M375.56 170.56L381.64 176.64M375.56 176.64L381.64 170.56" stroke="#0000ff" stroke-width="1.05" fill="none"/>
<path d="M377.60 173.00H386.20M381.90 168.70V177.30M378.86 169.96L384.94 176.04M378.86 176.04L384.94 169.96" stroke="#0000ff" stroke-width="1.05" fill="none"/>
<path d="M380.90 172.20H389.50M385.20 167.90V176.50M382.16 169.16L388.24 175.24M382.16 175.24L388.24 169.16" stroke="#0000ff" stroke-width="1.05" fill="none"/>
<path d="M386.10 170.60H394.70M390.40 166.30V174.90M387.36 167.56L393.44 173.64M387.36 173.64L393.44 167.56" stroke="#0000ff" stroke-width="1.05" fill="none"/>
<path d="M393.70 168.80H402.30M398.00 164.50V173.10M394.96 165.76L401.04 171.84M394.96 171.84L401.04 165.76" stroke="#0000ff" stroke-width="1.05" fill="none"/>
<path d="M403.70 166.60H412.30M408.00 162.30V170.90M404.96 163.56L411.04 169.64M404.96 169.64L411.04 163.56" stroke="#0000ff" stroke-width="1.05" fill="none"/>
<path d="M413.70 164.40H422.30M418.00 160.10V168.70M414.96 161.36L421.04 167.44M414.96 167.44L421.04 161.36" stroke="#0000ff" stroke-width="1.05" fill="none"/>
<path d="M423.70 161.20H432.30M428.00 156.90V165.50M424.96 158.16L431.04 164.24M424.96 164.24L431.04 158.16" stroke="#0000ff" stroke-width="1.05" fill="none"/>
<path d="M436.30 160.20H444.90M440.60 155.90V164.50M437.56 157.16L443.64 163.24M437.56 163.24L443.64 157.16" stroke="#0000ff" stroke-width="1.05" fill="none"/>
<path d="M453.20 160.00H461.80M457.50 155.70V164.30M454.46 156.96L460.54 163.04M454.46 163.04L460.54 156.96" stroke="#0000ff" stroke-width="1.05" fill="none"/>
<path d="M469.90 154.90H478.50M474.20 150.60V159.20M471.16 151.86L477.24 157.94M471.16 157.94L477.24 151.86" stroke="#0000ff" stroke-width="1.05" fill="none"/>
<path d="M486.60 158.70H495.20M490.90 154.40V163.00M487.86 155.66L493.94 161.74M487.86 161.74L493.94 155.66" stroke="#0000ff" stroke-width="1.05" fill="none"/>
<path d="M509.30 165.50H517.90M513.60 161.20V169.80M510.56 162.46L516.64 168.54M510.56 168.54L516.64 162.46" stroke="#0000ff" stroke-width="1.05" fill="none"/>
<path d="M554.30 170.80H562.90M558.60 166.50V175.10M555.56 167.76L561.64 173.84M555.56 173.84L561.64 167.76" stroke="#0000ff" stroke-width="1.05" fill="none"/>
</svg></body></html>
